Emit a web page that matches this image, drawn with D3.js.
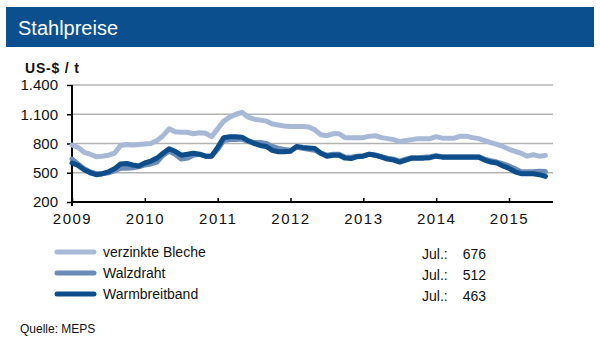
<!DOCTYPE html>
<html><head><meta charset="utf-8">
<script src="https://cdn.jsdelivr.net/npm/d3@7"></script>
<style>body{margin:0;background:#fff}svg{display:block;font-family:"Liberation Sans",Arial,sans-serif}</style>
</head><body>
<svg id="c" width="600" height="343"></svg>
<script>
const title = "Stahlpreise";
const unit = "US-$ / t";
const seriesNames = ["verzinkte Bleche", "Walzdraht", "Warmbreitband"];
const lastLabels = ["Jul.:", "Jul.:", "Jul.:"];
const lastValues = ["676", "512", "463"];
const yTicks = [200, 500, 800, 1100, 1400];
const xTickYears = [2009, 2010, 2011, 2012, 2013, 2014, 2015];
const startYear = 2009;
const verzinkte = [785,760,710,690,665,670,680,700,780,790,785,790,
 795,800,830,880,950,920,915,915,900,910,905,870,
 950,1030,1070,1100,1120,1070,1050,1040,1030,1000,990,980,
 975,975,975,970,940,890,880,900,900,860,860,860,
 860,875,880,860,850,840,820,830,840,850,850,850,
 870,855,855,855,875,875,860,850,830,810,790,770,
 740,720,700,670,685,670,676];
const walzdraht = [640,590,540,510,490,490,500,520,545,545,550,560,
 580,590,610,680,720,690,640,650,680,690,670,670,
 740,830,840,840,845,820,810,810,800,770,750,740,
 730,760,750,740,730,700,680,690,690,660,660,670,
 675,690,680,665,650,640,620,640,655,655,660,665,
 675,665,665,665,665,665,665,665,640,625,610,590,
 570,540,510,510,510,515,512];
const warmbreitband = [600,575,530,500,480,490,510,540,590,595,580,570,
 600,620,650,700,745,720,680,690,700,690,670,670,
 760,860,870,870,865,830,800,780,770,730,715,715,
 720,770,760,755,750,700,670,680,680,650,645,665,
 670,690,680,660,640,630,610,630,650,650,650,655,
 670,660,660,660,660,660,660,660,630,610,600,570,
 545,510,490,490,490,480,463];
const colors = ["#a7b9d6", "#6a8cb6", "#0d4d89"];

const svg = d3.select("#c");
svg.append("rect").attr("x",6).attr("y",7).attr("width",588).attr("height",40).attr("fill","#0b4f8f");
svg.append("text").attr("x",18).attr("y",35).attr("fill","#fff").attr("font-size",20).text(title);

const x = d3.scaleLinear().domain([startYear, 2015]).range([72, 509]);
const y = d3.scaleLinear().domain([200, 1400]).range([202, 85]);
const xEnd = 553;

svg.append("g").selectAll("line").data(yTicks.filter(v=>v>200)).join("line")
  .attr("x1",72).attr("x2",xEnd).attr("y1",d=>y(d)).attr("y2",d=>y(d))
  .attr("stroke","#b3b3b3").attr("stroke-width",1.5);

const yAx = svg.append("g").attr("transform","translate(72,0)")
  .call(d3.axisLeft(y).tickValues(yTicks).tickSize(5).tickFormat(d=>d3.format(",")(d).replace(/,/g,".")));
yAx.select(".domain").attr("stroke","#000").attr("stroke-width",2).attr("d","M0,85V206");
yAx.selectAll(".tick line").attr("stroke","#000").attr("stroke-width",1.5);
yAx.selectAll(".tick text").attr("font-size",15).attr("fill","#111").attr("x",-14).attr("font-family","Liberation Sans, Arial, sans-serif");

const xAx = svg.append("g").attr("transform","translate(0,202)")
  .call(d3.axisBottom(x).tickValues(xTickYears).tickSize(-4).tickFormat(d3.format("d")));
xAx.select(".domain").attr("stroke","#000").attr("stroke-width",2).attr("d",`M72,0H${xEnd}`);
xAx.selectAll(".tick line").attr("stroke","#000").attr("stroke-width",1.5);
xAx.selectAll(".tick text").attr("font-size",15).attr("fill","#111").attr("y",11).attr("letter-spacing","1.5px")
  .attr("font-family","Liberation Sans, Arial, sans-serif");

svg.append("text").attr("x",25).attr("y",73).attr("font-size",14).attr("font-weight","bold").attr("letter-spacing","0.8px").attr("fill","#111").text(unit);

const allSeries = [verzinkte, walzdraht, warmbreitband];
const line = d3.line().x((d,i)=>x(startYear + i/12)).y(d=>y(d)).curve(d3.curveLinear);
allSeries.forEach((s,k)=>{
  svg.append("path").attr("d",line(s)).attr("fill","none").attr("stroke",colors[k])
    .attr("stroke-width",5).attr("stroke-linejoin","round").attr("stroke-linecap","round");
});

const ly = [252, 273, 294];
seriesNames.forEach((n,k)=>{
  svg.append("line").attr("x1",57).attr("x2",94).attr("y1",ly[k]).attr("y2",ly[k])
    .attr("stroke",colors[k]).attr("stroke-width",5).attr("stroke-linecap","round");
  svg.append("text").attr("x",103).attr("y",ly[k]+5).attr("font-size",14).attr("fill","#111").text(n);
  svg.append("text").attr("x",422).attr("y",ly[k]+7).attr("font-size",14).attr("fill","#111").text(lastLabels[k]);
  svg.append("text").attr("x",486).attr("y",ly[k]+7).attr("font-size",14).attr("fill","#111").attr("text-anchor","end").text(lastValues[k]);
});
svg.append("text").attr("x",20).attr("y",333).attr("font-size",12).attr("fill","#111").text("Quelle:  MEPS");
</script>
</body></html>
